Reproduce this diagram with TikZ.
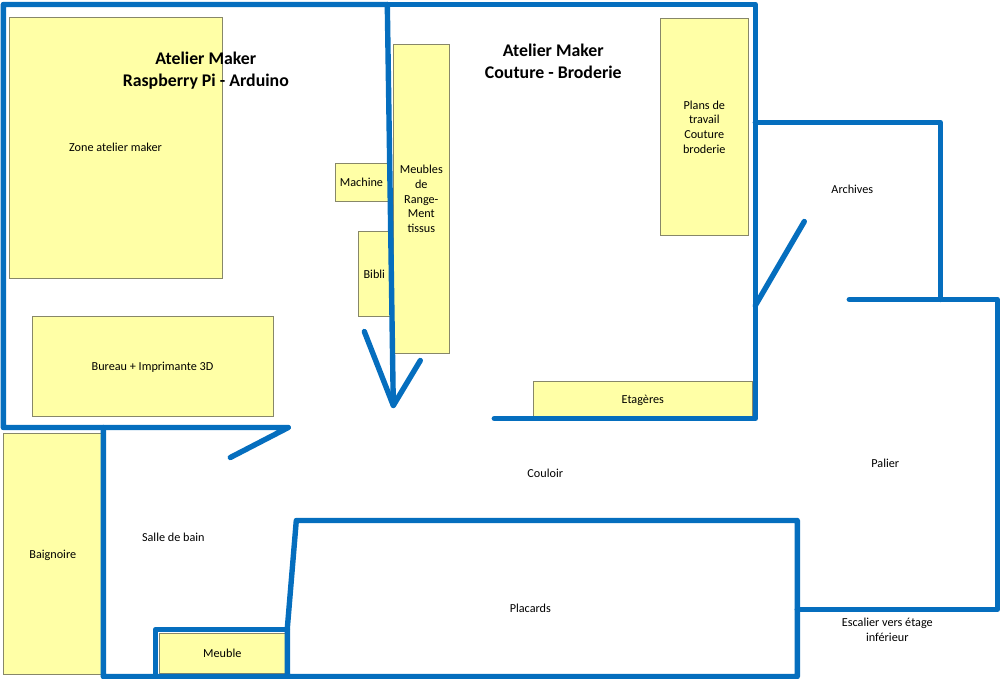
\documentclass[tikz,border=0pt]{standalone}
\usepackage{fontspec}
\setmainfont{Carlito}
\usetikzlibrary{positioning}
\definecolor{wallblue}{RGB}{5, 110, 190}
\definecolor{furnyellow}{RGB}{255, 255, 166}
\definecolor{furnedge}{RGB}{135, 135, 105}

\begin{document}
\begin{tikzpicture}[
    x=1pt, y=-1pt,
    furniture/.style={rectangle, inner sep=0pt, align=center, draw=furnedge, line width=0.9pt, fill=furnyellow, font=\fontsize{12.2}{14.6}\selectfont},
    oneline/.style={text height=8pt, text depth=0pt},
    wall/.style={draw=wallblue, line width=5.4pt, line cap=round, line join=round},
    roomlabel/.style={inner sep=0pt, align=center, font=\fontsize{12.2}{14.6}\selectfont},
    title/.style={inner sep=0pt, align=center, font=\fontsize{17.8}{22}\selectfont\bfseries}
]
\useasboundingbox (-0.3,-0.5) rectangle (999.7,678.5);

% Furniture
\node (zone_maker) [furniture, oneline, minimum width=213pt, minimum height=261pt] at (115.2,147.5) {Zone atelier maker};
\node (bureau) [furniture, oneline, minimum width=241pt, minimum height=100pt] at (152.2,366) {Bureau + Imprimante 3D};
\node (machine) [furniture, oneline, minimum width=53pt, minimum height=38pt] at (361.2,182) {Machine};
\node (bibli) [furniture, oneline, minimum width=32pt, minimum height=85pt] at (374,273.5) {Bibli};
\node (meubles_tissus) [furniture, minimum width=56pt, minimum height=309pt] at (421,198.5) {Meubles\\de\\Range-\\Ment\\tissus};
\node (plans_travail) [furniture, minimum width=88pt, minimum height=217pt] at (704,126.5) {Plans de\\travail\\Couture\\broderie};
\node (etageres) [furniture, oneline, minimum width=219pt, minimum height=35pt] at (642.5,398.5) {Etagères};
\node (baignoire) [furniture, oneline, minimum width=99pt, minimum height=241pt] at (52.5,553.5) {Baignoire};
\node (meuble) [furniture, oneline, minimum width=126pt, minimum height=40pt] at (222,653) {Meuble};

% Walls
\draw [wall] (387,4) -- (755,4) -- (755,418) -- (494,418);
\draw [wall] (387,4) -- (3,4) -- (3,427) -- (288,427) -- (230,457);
\draw [wall] (387,4) -- (393,405);
\draw [wall] (364,331) -- (393,405) -- (420,360);
\draw [wall] (103,427) -- (103,676) -- (797,676) -- (797,520) -- (296,520) -- (287,628) -- (287,676);
\draw [wall] (155,676) -- (155,629) -- (287,629);
\draw [wall] (755,122) -- (940,122) -- (940,299);
\draw [wall] (849,299) -- (997,299) -- (997,609) -- (797,609);
\draw [wall] (755,305) -- (804,221);

% Rooms
\node (couloir) [roomlabel, oneline] at (545,473) {Couloir};
\node (archives) [roomlabel, oneline] at (852,189) {Archives};
\node (palier) [roomlabel, oneline] at (885,463) {Palier};
\node (salle_bain) [roomlabel, oneline] at (173,537) {Salle de bain};
\node (placards) [roomlabel, oneline] at (530,608) {Placards};
\node (escalier) [roomlabel] at (887,629.5) {Escalier vers étage\\inférieur};

\node (title_maker) [title] at (205.5,70) {Atelier Maker\\Raspberry Pi - Arduino};
\node (title_couture) [title] at (553,60.5) {Atelier Maker\\Couture - Broderie};

\end{tikzpicture}
\end{document}
